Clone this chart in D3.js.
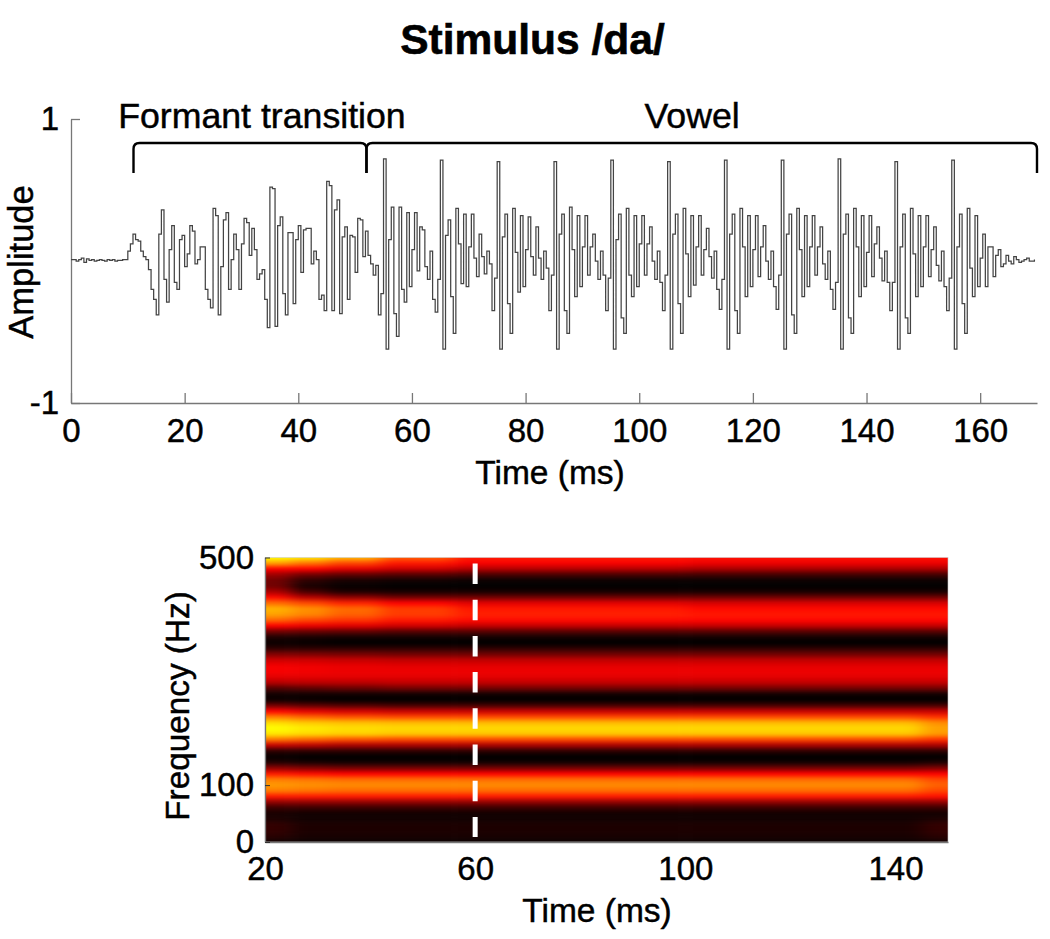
<!DOCTYPE html>
<html><head><meta charset="utf-8">
<script src="https://cdn.jsdelivr.net/npm/d3@7"></script>
<style>
html,body{margin:0;padding:0;background:#fff}
svg{display:block}
text{font-family:"Liberation Sans",Arial,sans-serif;fill:#000;stroke:#000;stroke-width:.45px}
</style></head><body>
<svg id="c" width="1050" height="939"></svg>
<script>
const title = "Stimulus /da/";
const waveTicksX = [0,20,40,60,80,100,120,140,160];
const waveTicksY = [-1,1];
const specTicksX = [20,60,100,140];
const specTicksY = [0,100,500];
const brackets = [
  {label:"Formant transition", start:11, end:52, labelAt:33.6},
  {label:"Vowel", start:52, end:170, labelAt:109.3}
];
const preVoicing = [.01,.01,0,.01,.02,-.01,.015,.005,.01,0,.005,.01,.005,0,.01,.005,.01,0,.005,.005,.01,.01];
const transition = [
 .07,.12,.19,.15,.14,.07,.03,.01,-.06,-.2,
 -.27,-.38,.19,.36,-.13,-.29,.08,.25,-.15,-.2,
 .15,.18,-.04,.05,.25,.21,-.02,.01,.1,.1,
 -.2,-.27,-.33,.37,.32,-.38,-.04,.29,.34,-.2,
 .01,.19,.08,-.2,.12,.3,.27,.04,.23,.08,
 -.13,-.09,-.06,-.27,-.47,.52,.51,-.46,.25,.31,
 -.23,-.38,.2,.2,-.3,.15,.25,-.08,.22,.23,
 .23,-.02,.07,.01,-.27,-.24,-.35,.56,.53,-.35,
 .36,.43,-.37,.17,.24,-.27,.18,.17,-.08,.3,
 .29,.03,.21,.04,-.02,-.1,-.03,-.38,-.23];
const vowel = [
 .72,-.62,.15,.38,-.37,-.53,.38,-.2,-.29,.34,-.18,.08,.34,-.07,.24,.22,-.04,-.13,.07,-.27,-.36,-.13,
 .71,-.62,.18,.29,-.25,-.51,.37,.12,-.16,.33,-.18,.1,.33,.02,-.11,.19,.03,-.09,.07,-.02,-.35,-.12,
 .70,-.62,.17,.33,-.3,-.51,.37,.06,-.22,.32,-.18,.08,.31,.03,-.1,.24,.02,-.13,.07,-.05,-.35,-.1,
 .70,-.62,.19,.33,-.35,-.51,.38,.08,-.25,.32,-.18,.1,.32,-.1,.1,.19,0,-.13,.07,-.1,-.35,-.12,
 .71,-.62,.15,.33,-.4,-.51,.37,-.1,-.25,.32,-.18,.12,.32,-.1,.12,.24,0,-.13,.07,-.15,-.35,-.1,
 .70,-.62,.19,.33,-.3,-.51,.37,.05,-.25,.32,-.17,.1,.32,-.1,.08,.23,.03,-.12,.07,-.2,-.34,-.13,
 .71,-.62,.19,.33,-.35,-.51,.37,.1,-.25,.32,-.18,.08,.32,-.11,.1,.25,0,-.13,.07,-.18,-.34,-.1,
 .71,-.62,.19,.33,-.38,-.51,.37,.08,-.25,.32,-.18,.1,.32,-.1,.1,.24,-.02,-.13,.07,-.2,-.34,-.15,
 .72,-.62,.19,.33,-.4,-.51,.37,.1,-.25,.32,-.18,.06,.32,-.11,.12,.24,.02,-.14,.07,-.15,-.35,-.15,
 .70,-.62,.1,.33,-.4,-.51,.37,.05,-.25,.32,-.18,.1,.32,-.11,.08,.24,-.03,-.14,.07,-.18,-.35,-.12,
 .71,-.62,.1,.33,-.3,-.51,.37,-.05,-.25,.32,-.18,.02,.19,-.18,.1,.1,-.11,.04,.08,-.04,-.02,.04];
const tail = [0,-.02,.03,.01,-.01,0,.01,.02,0,0,.01];
const specTimeEdges = [20,25,32,42,56,100,145,150];
const specFreqs = d3.range(500,-1,-10);
const specRows = [
 [1,.95,.85,.65,.5,.48,.48],
 [.8,.7,.6,.5,.44,.42,.42],
 [.45,.45,.4,.36,.32,.3,.3],
 [.28,.2,.17,.15,.13,.12,.12],
 [.2,.08,.04,.03,.02,.02,.02],
 [.2,.04,.01,0,0,0,0],
 [.3,.12,.05,.04,.04,.04,.04],
 [.47,.32,.25,.2,.2,.2,.2],
 [.68,.6,.52,.45,.4,.38,.38],
 [.84,.76,.68,.58,.5,.47,.47],
 [.8,.74,.66,.58,.52,.5,.5],
 [.67,.6,.56,.5,.47,.46,.46],
 [.45,.42,.4,.37,.35,.35,.35],
 [.2,.18,.17,.15,.15,.15,.15],
 [.05,.04,.03,.03,.03,.03,.03],
 [.02,.01,0,0,0,0,0],
 [.08,.08,.08,.08,.08,.08,.08],
 [.23,.22,.21,.2,.2,.2,.2],
 [.36,.36,.35,.34,.34,.34,.34],
 [.43,.42,.41,.4,.4,.4,.4],
 [.44,.43,.42,.42,.42,.42,.42],
 [.4,.4,.4,.4,.4,.4,.4],
 [.32,.33,.33,.34,.34,.34,.34],
 [.14,.16,.18,.2,.2,.2,.2],
 [.03,.03,.03,.03,.03,.03,.03],
 [.02,.01,0,0,0,0,0],
 [.2,.16,.14,.12,.12,.12,.12],
 [.45,.4,.37,.35,.35,.35,.35],
 [.72,.66,.62,.6,.6,.6,.55],
 [.92,.88,.86,.85,.85,.85,.75],
 [1,.96,.93,.92,.92,.92,.8],
 [.95,.92,.9,.88,.88,.88,.78],
 [.7,.66,.62,.6,.6,.6,.55],
 [.35,.33,.3,.3,.3,.3,.3],
 [.08,.08,.08,.08,.08,.08,.08],
 [.01,0,0,0,0,0,0],
 [.06,.04,.03,.03,.03,.03,.05],
 [.25,.22,.2,.2,.2,.2,.22],
 [.5,.47,.45,.45,.45,.45,.45],
 [.72,.7,.68,.68,.68,.68,.6],
 [.78,.76,.75,.75,.75,.75,.66],
 [.72,.7,.68,.68,.68,.68,.6],
 [.5,.5,.5,.5,.5,.5,.48],
 [.25,.25,.25,.25,.25,.25,.25],
 [.1,.1,.1,.1,.1,.1,.1],
 [.04,.03,.03,.03,.03,.03,.03],
 [.05,.03,.03,.03,.03,.03,.05],
 [.09,.05,.05,.05,.05,.05,.09],
 [.09,.05,.05,.05,.05,.05,.09],
 [.07,.04,.04,.04,.04,.04,.07],
 [.03,.02,.02,.02,.02,.02,.03]
];
const markerTime = 60;

const svg = d3.select("#c");
const axisColor = "#777";
const amplitude = preVoicing.concat(transition, vowel, tail);
const dt = 10/22;

svg.append("text").attr("x",532.5).attr("y",54).attr("text-anchor","middle")
  .attr("font-size",42.5).attr("font-weight","bold").style("stroke-width","0.6px").text(title);

/* waveform */
const xW = d3.scaleLinear().domain([0,170]).range([71,1037]);
const yW = d3.scaleLinear().domain([-1,1]).range([403,119]);
const gx = svg.append("g").attr("transform","translate(0,403)")
  .call(d3.axisBottom(xW).tickValues(waveTicksX).tickSizeInner(-10).tickSizeOuter(0).tickPadding(16));
const gy = svg.append("g").attr("transform","translate(71,0)")
  .call(d3.axisLeft(yW).tickValues(waveTicksY).tickFormat(d=>String(d)).tickSizeInner(-9).tickSizeOuter(0).tickPadding(12));
[gx,gy].forEach(g=>{
  g.selectAll("path,line").attr("stroke",axisColor).attr("stroke-width",1.3);
  g.selectAll("text").attr("font-size",33).style("font-family",'"Liberation Sans",Arial,sans-serif');
});
svg.append("path").datum(amplitude)
  .attr("fill","none").attr("stroke","#444").attr("stroke-width",1.25)
  .attr("d",d3.line().x((d,i)=>xW(i*dt)).y(d=>yW(d)).curve(d3.curveStepAfter));
svg.append("text").attr("transform","translate(33,262) rotate(-90)").attr("text-anchor","middle")
  .attr("font-size",34.5).text("Amplitude");
svg.append("text").attr("x",550).attr("y",484).attr("text-anchor","middle")
  .attr("font-size",33.5).text("Time (ms)");

/* brackets */
brackets.forEach(b=>{
  const p = d3.path(), top = 143, bot = 173, r = 6;
  p.moveTo(xW(b.start), bot);
  p.lineTo(xW(b.start), top+r);
  p.quadraticCurveTo(xW(b.start), top, xW(b.start)+r, top);
  p.lineTo(xW(b.end)-r, top);
  p.quadraticCurveTo(xW(b.end), top, xW(b.end), top+r);
  p.lineTo(xW(b.end), bot);
  svg.append("path").attr("d",p.toString()).attr("fill","none").attr("stroke","#000").attr("stroke-width",2.4);
  svg.append("text").attr("x",xW(b.labelAt)).attr("y",128).attr("text-anchor","middle")
    .attr("font-size",35.7).text(b.label);
});

/* spectrogram */
const xS = d3.scaleLinear().domain([20,150]).range([265,948]);
const yS = d3.scaleLinear().domain([0,500]).range([842,557.5]);
const hot = d3.scaleLinear().domain([0,.45,1]).range(["#000","#f00","#ff0"]).clamp(true);
const defs = svg.append("defs");
defs.append("clipPath").attr("id","plotClip").append("rect")
  .attr("x",xS(20)).attr("y",yS(500)).attr("width",xS(150)-xS(20)).attr("height",yS(0)-yS(500));
const blur = defs.append("filter").attr("id","soft").attr("filterUnits","userSpaceOnUse")
  .attr("x",200).attr("y",500).attr("width",820).attr("height",400)
  .attr("color-interpolation-filters","sRGB");
blur.append("feGaussianBlur").attr("stdDeviation","9 2.2");
const cells = svg.append("g").attr("clip-path","url(#plotClip)").append("g").attr("filter","url(#soft)");
const spans = d3.pairs(specTimeEdges);
const pad = 40, half = 5;
specRows.forEach((row,ri)=>{
  const f = specFreqs[ri];
  row.forEach((v,ci)=>{
    const [t0,t1] = spans[ci];
    const left = ci===0 ? xS(t0)-pad : xS(t0);
    const right = ci===row.length-1 ? xS(t1)+pad : xS(t1);
    const top = ri===0 ? yS(f)-pad : yS(f+half);
    const bottom = ri===specRows.length-1 ? yS(f)+pad : yS(f-half);
    cells.append("rect").attr("x",left).attr("y",top)
      .attr("width",right-left+.5).attr("height",bottom-top+.5).attr("fill",hot(v));
  });
});
svg.append("rect").attr("x",xS(20)).attr("y",yS(500)).attr("width",xS(150)-xS(20)).attr("height",yS(0)-yS(500))
  .attr("fill","none").attr("stroke","#ccc").attr("stroke-width",.6);
const gxs = svg.append("g").attr("transform",`translate(0,${yS(0)})`)
  .call(d3.axisBottom(xS).tickValues(specTicksX).tickSize(0).tickPadding(15));
const gys = svg.append("g").attr("transform",`translate(${xS(20)},0)`)
  .call(d3.axisLeft(yS).tickValues(specTicksY).tickSizeInner(-5).tickSizeOuter(0).tickPadding(11));
[gxs,gys].forEach(g=>{
  g.selectAll("path").attr("stroke",axisColor).attr("stroke-width",1.3);
  g.selectAll("line").attr("stroke","#333").attr("stroke-width",1);
  g.selectAll("text").attr("font-size",33).style("font-family",'"Liberation Sans",Arial,sans-serif');
});
svg.append("line").attr("x1",xS(markerTime)).attr("x2",xS(markerTime)).attr("y1",yS(500)+6).attr("y2",yS(0)-5)
  .attr("stroke","#fff").attr("stroke-width",5).attr("stroke-dasharray","20.5 15.7");
svg.append("text").attr("transform","translate(189,706) rotate(-90)").attr("text-anchor","middle")
  .attr("font-size",33.3).text("Frequency (Hz)");
svg.append("text").attr("x",597).attr("y",922).attr("text-anchor","middle")
  .attr("font-size",33.5).text("Time (ms)");
</script></body></html>
